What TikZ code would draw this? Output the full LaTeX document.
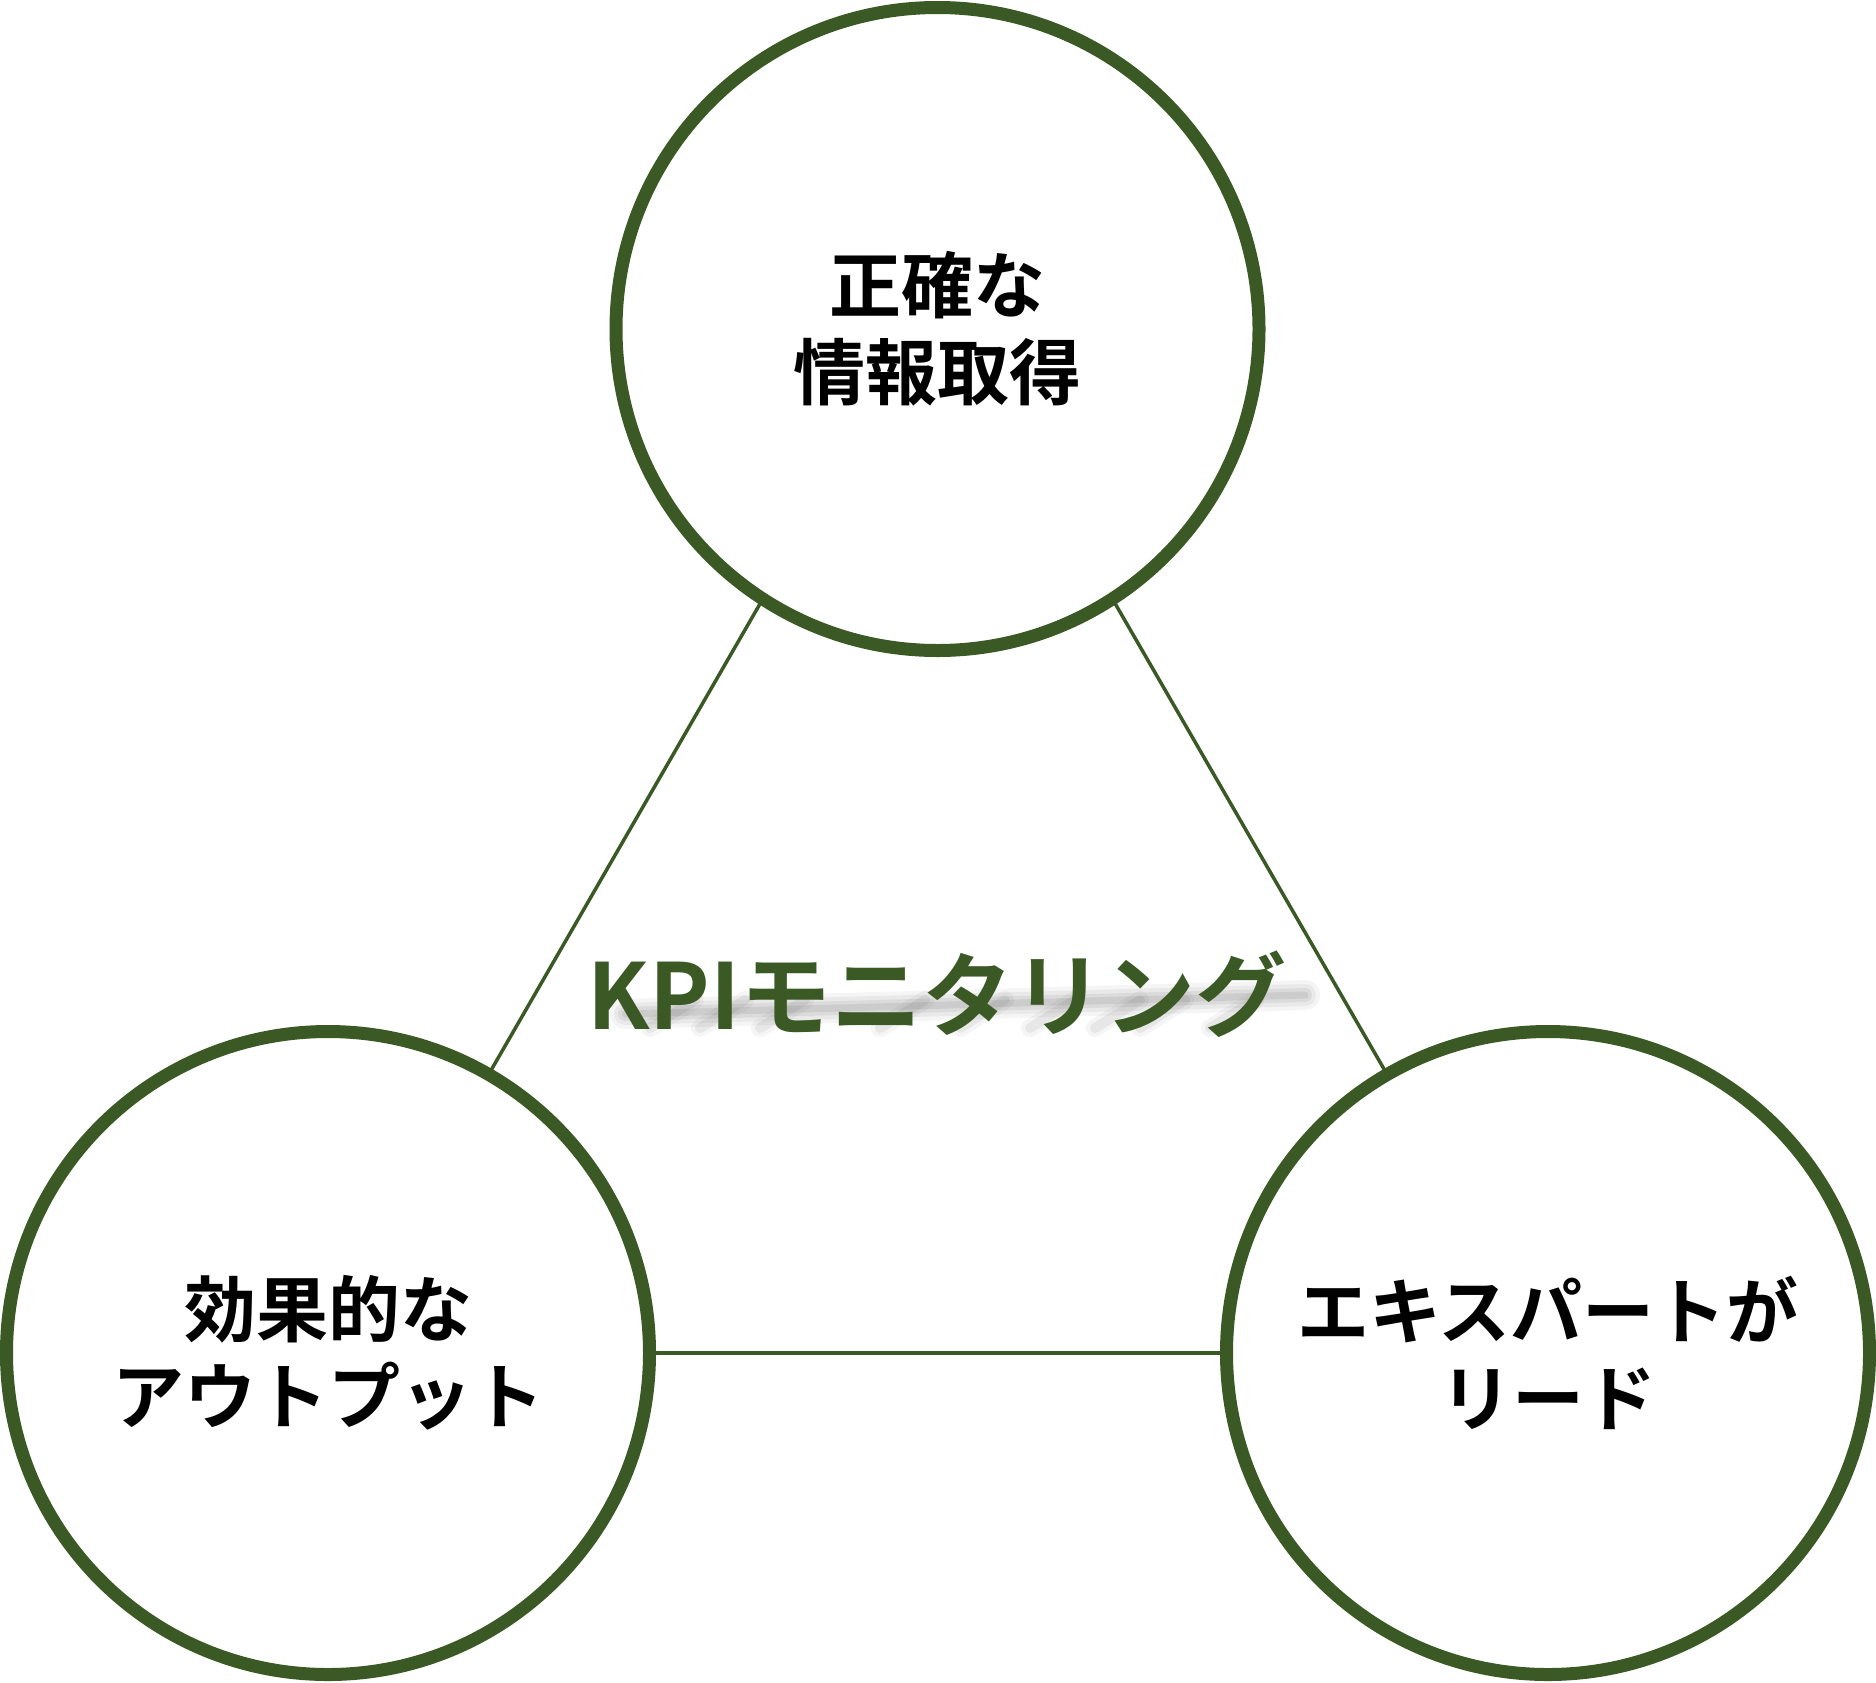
\documentclass[tikz,border=0pt]{standalone}
\usepackage{fontspec}
\newfontfamily\cjk{Noto Sans CJK JP Bold}
\newfontfamily\cjkb{Noto Sans CJK JP Bold}
\usetikzlibrary{backgrounds}
\definecolor{kgreen}{RGB}{58,89,36}
\tikzset{
  topic/.style={circle, draw=kgreen, line width=13pt, fill=white, minimum size=643pt, inner sep=0pt,
    align=center, font=\cjk\fontsize{72}{87}\selectfont, text=black},
  link/.style={draw=kgreen, line width=3.5pt},
  title/.style={font=\cjkb\fontsize{91}{100}\selectfont, text=kgreen, inner sep=0pt},
  smear/.style={draw=black, line cap=round}
}
\begin{document}
\begin{tikzpicture}[x=1pt,y=-1pt]
\useasboundingbox (0,0) rectangle (1876,1682);
\coordinate (apex) at (937.5,296);
\node[topic] (info) at (937.5,329) {正確な\\情報取得};
\node[topic] (output) at (328,1353) {効果的な\\アウトプット};
\node[topic] (expert) at (1548,1353) {エキスパートが\\リード};
\begin{scope}[on background layer]
\draw[link] (output.center) -- (apex);
\draw[link] (expert.center) -- (apex);
\draw[link] (output.center) -- (expert.center);
\end{scope}
% soft shadow band behind the title
\coordinate (sh1) at (625,1014);
\coordinate (sh2) at (1305,995);
\foreach \w/\op in {30/0.04,22/0.05,14/0.06,7/0.07}{
  \draw[smear, line width=\w pt, opacity=\op] (sh1) -- (sh2);
}
\foreach \x in {650,700,760,880,960,1030,1095,1140,1210}{
  \foreach \w/\op in {18/0.04,10/0.06}{
    \draw[smear, line width=\w pt, opacity=\op] (\x,1028) -- (\x+45,1000);
  }
}
\node[title] (kpi) at (937,994) {KPIモニタリング};
\end{tikzpicture}
\end{document}
